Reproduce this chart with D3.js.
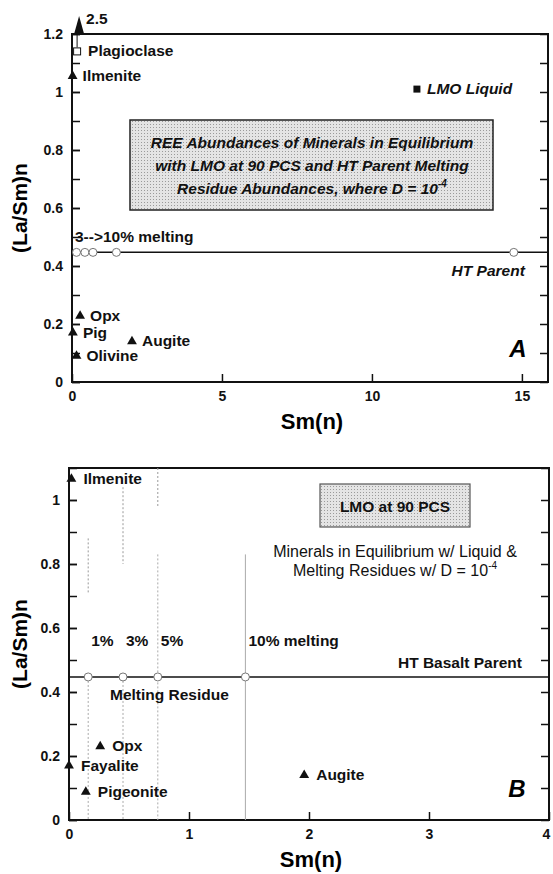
<!DOCTYPE html>
<html lang="en">
<head>
<meta charset="UTF-8">
<title>(La/Sm)n vs Sm(n)</title>
<script src="https://d3js.org/d3.v7.min.js"></script>
<style>
    body { margin: 0; background: #fff; }
    svg { display: block; font-family: "Liberation Sans", Arial, sans-serif; }
    .tick text { font-size: 14px; font-weight: bold; fill: #111; }
    .tick line { stroke: #111; stroke-width: 1.5; }
    .lbl { font-size: 15.5px; font-weight: bold; fill: #111; }
</style>
</head>
<body>
<svg id="chart" width="553" height="874"></svg>
<script>
// ---- panel A data ----
const mineralsA = ["Ilmenite", "Opx", "Pig", "Olivine", "Augite"];
const mineralSmA = [0.02, 0.27, 0.03, 0.15, 2.0];
const mineralRatioA = [1.055, 0.228, 0.17, 0.09, 0.14];
const plagSm = 0.17, plagRatio = 1.14, plagOffScale = "2.5";
const lmoLiquidSm = 11.5, lmoLiquidRatio = 1.01;
const residueSmA = [0.15, 0.43, 0.7, 1.48];
const htParentSm = 14.73;
const htParentRatio = 0.447;
const xTicksA = [0, 5, 10, 15];
const boxLinesA = [
    "REE Abundances of Minerals in Equilibrium",
    "with LMO at 90 PCS and HT Parent Melting",
    "Residue Abundances, where D = 10"
];

// ---- panel B data ----
const mineralsB = ["Ilmenite", "Opx", "Fayalite", "Pigeonite", "Augite"];
const mineralSmB = [0.02, 0.26, 0.0, 0.14, 1.96];
const mineralRatioB = [1.066, 0.23, 0.17, 0.088, 0.14];
const residueSmB = [0.16, 0.45, 0.74, 1.47];
const meltLabelsB = ["1%", "3%", "5%", "10% melting"];
const xTicksB = [0, 1, 2, 3, 4];
const yTicks = [0, 0.2, 0.4, 0.6, 0.8, 1, 1.2];

const svg = d3.select("#chart");

// stipple fill for the text boxes
const pat = svg.append("defs").append("pattern")
    .attr("id", "stipple").attr("width", 3).attr("height", 3)
    .attr("patternUnits", "userSpaceOnUse");
pat.append("rect").attr("width", 3).attr("height", 3).attr("fill", "#e4e4e4");
pat.append("rect").attr("width", 1).attr("height", 1).attr("fill", "#9a9a9a");

const tri = d3.symbol().type(d3.symbolTriangle).size(42);

function panel(left, top, width, height, xMax, yMax, xTicks) {
    const g = svg.append("g").attr("transform", `translate(${left},${top})`);
    const x = d3.scaleLinear().domain([0, xMax]).range([0, width]);
    const y = d3.scaleLinear().domain([0, yMax]).range([height, 0]);
    const minor = d3.range(0, yMax + 0.001, 0.1);

    g.append("g").call(d3.axisLeft(y).tickValues(minor).tickSize(-8).tickFormat(""));
    g.append("g").call(d3.axisLeft(y).tickValues(yTicks.filter(v => v <= yMax))
        .tickSize(-8).tickPadding(9).tickFormat(d => d));
    g.append("g").attr("transform", `translate(${width},0)`)
        .call(d3.axisRight(y).tickValues(minor).tickSize(-8).tickFormat(""));
    const xa = g.append("g").attr("transform", `translate(0,${height})`)
        .call(d3.axisBottom(x).tickValues(xTicks).tickSize(-8).tickPadding(9).tickFormat(d => d));
    // last label sits on the page edge
    xa.selectAll(".tick text").filter(d => d === xMax).attr("dx", -3);
    g.selectAll(".domain").remove();

    g.append("rect").attr("width", width).attr("height", height)
        .attr("fill", "none").attr("stroke", "#111").attr("stroke-width", 2);

    svg.append("text").attr("x", left + width / 2 + 2).attr("y", top + height + 47)
        .attr("text-anchor", "middle").attr("font-size", 22).attr("font-weight", "bold")
        .text("Sm(n)");
    svg.append("text")
        .attr("transform", `translate(27,${top + height * 0.5}) rotate(-90)`)
        .attr("text-anchor", "middle").attr("font-size", 21).attr("font-weight", "bold")
        .text("(La/Sm)n");
    return { g, x, y, width, height };
}

function minerals(p, names, xs, ys, dx) {
    names.forEach((n, i) => {
        p.g.append("path").attr("d", tri)
            .attr("transform", `translate(${p.x(xs[i])},${p.y(ys[i])})`)
            .attr("fill", "#111");
        p.g.append("text").attr("class", "lbl")
            .attr("x", p.x(xs[i]) + dx).attr("y", p.y(ys[i]) + 5)
            .text(n);
    });
}

// ================= Panel A =================
const A = panel(72, 34, 476, 348, 15.87, 1.2, xTicksA);

// off-scale plagioclase arrow
A.g.append("path").attr("d", "M0,-18 L-5,0 L5,0 Z")
    .attr("transform", `translate(${A.x(plagSm) + 2},0)`).attr("fill", "#111");
A.g.append("line").attr("x1", A.x(plagSm)).attr("x2", A.x(plagSm))
    .attr("y1", 0).attr("y2", A.y(plagRatio) - 4).attr("stroke", "#111");
A.g.append("text").attr("class", "lbl").attr("font-size", 14).attr("x", A.x(plagSm) + 9).attr("y", -10)
    .text(plagOffScale);
A.g.append("rect").attr("x", A.x(plagSm) - 3.5).attr("y", A.y(plagRatio) - 3.5)
    .attr("width", 7).attr("height", 7).attr("fill", "#fff").attr("stroke", "#111");
A.g.append("text").attr("class", "lbl").attr("x", A.x(plagSm) + 11).attr("y", A.y(plagRatio) + 5)
    .text("Plagioclase");

minerals(A, mineralsA, mineralSmA, mineralRatioA, 10);

// LMO liquid
A.g.append("rect").attr("x", A.x(lmoLiquidSm) - 3.5).attr("y", A.y(lmoLiquidRatio) - 3.5)
    .attr("width", 7).attr("height", 7).attr("fill", "#111");
A.g.append("text").attr("class", "lbl").attr("font-style", "italic")
    .attr("x", A.x(lmoLiquidSm) + 10).attr("y", A.y(lmoLiquidRatio) + 5).text("LMO Liquid");

// HT parent line + residues
A.g.append("line").attr("x1", 0).attr("x2", A.width)
    .attr("y1", A.y(htParentRatio)).attr("y2", A.y(htParentRatio))
    .attr("stroke", "#111").attr("stroke-width", 1.5);
A.g.selectAll(".resA").data(residueSmA.concat([htParentSm])).join("circle")
    .attr("cx", d => A.x(d)).attr("cy", A.y(htParentRatio)).attr("r", 4)
    .attr("fill", "#fff").attr("stroke", "#777");
A.g.append("text").attr("class", "lbl").attr("x", 3).attr("y", A.y(htParentRatio) - 10)
    .text("3-->10% melting");
A.g.append("text").attr("class", "lbl").attr("font-style", "italic")
    .attr("x", A.x(htParentSm) + 11).attr("y", A.y(htParentRatio) + 24)
    .attr("text-anchor", "end").text("HT Parent");

// description box
A.g.append("rect").attr("x", 58).attr("y", 86).attr("width", 363).attr("height", 90)
    .attr("fill", "url(#stipple)").attr("stroke", "#222").attr("stroke-width", 1.5);
boxLinesA.forEach((t, i) => {
    const tx = A.g.append("text").attr("class", "lbl").attr("font-style", "italic")
        .attr("font-size", 16)
        .attr("x", 240).attr("y", 114 + i * 23).attr("text-anchor", "middle").text(t);
    if (i === boxLinesA.length - 1)
        tx.append("tspan").attr("dy", -7).attr("font-size", 10).text("-4");
});

A.g.append("text").attr("x", A.width - 30).attr("y", A.height - 25)
    .attr("text-anchor", "middle").attr("font-size", 24).attr("font-weight", "bold")
    .attr("font-style", "italic").text("A");

// ================= Panel B =================
const B = panel(69, 468, 480, 352, 4, 1.1, xTicksB);

// faint vertical melting guides
const guideTop = [[0.88, 0.71], [1.04, 0.8], [1.1, 0.975], [0.83, 0.83]];
residueSmB.forEach((s, i) => {
    B.g.append("line").attr("x1", B.x(s)).attr("x2", B.x(s))
        .attr("y1", B.y(guideTop[i][0])).attr("y2", B.y(guideTop[i][1]))
        .attr("stroke", "#999").attr("stroke-dasharray", i === 3 ? null : "2,2");
    B.g.append("line").attr("x1", B.x(s)).attr("x2", B.x(s))
        .attr("y1", B.y(i >= 2 ? 0.83 : htParentRatio)).attr("y2", B.height)
        .attr("stroke", "#aaa").attr("stroke-dasharray", i === 3 ? null : "2,2");
    B.g.append("text").attr("class", "lbl").attr("font-size", 15)
        .attr("x", B.x(s) + 3).attr("y", B.y(0.545)).text(meltLabelsB[i]);
});

B.g.append("line").attr("x1", 0).attr("x2", B.width)
    .attr("y1", B.y(htParentRatio)).attr("y2", B.y(htParentRatio))
    .attr("stroke", "#111").attr("stroke-width", 1.5);
B.g.selectAll(".resB").data(residueSmB).join("circle")
    .attr("cx", d => B.x(d)).attr("cy", B.y(htParentRatio)).attr("r", 4)
    .attr("fill", "#fff").attr("stroke", "#777");
B.g.append("text").attr("class", "lbl").attr("x", B.x(residueSmB[1]) - 13)
    .attr("y", B.y(htParentRatio) + 23).text("Melting Residue");
B.g.append("text").attr("class", "lbl").attr("x", B.width - 27)
    .attr("y", B.y(htParentRatio) - 9).attr("text-anchor", "end").text("HT Basalt Parent");

minerals(B, mineralsB, mineralSmB, mineralRatioB, 12);

B.g.append("rect").attr("x", 251).attr("y", 16).attr("width", 150).attr("height", 43)
    .attr("fill", "url(#stipple)").attr("stroke", "#555").attr("stroke-width", 1.2);
B.g.append("text").attr("class", "lbl").attr("font-size", 16).attr("x", 326).attr("y", 44)
    .attr("text-anchor", "middle").text("LMO at 90 PCS");
B.g.append("text").attr("x", 326).attr("y", 89).attr("text-anchor", "middle")
    .attr("font-size", 16).attr("fill", "#111").text("Minerals in Equilibrium w/ Liquid &");
B.g.append("text").attr("x", 326).attr("y", 108).attr("text-anchor", "middle")
    .attr("font-size", 16).attr("fill", "#111").text("Melting Residues w/ D = 10")
    .append("tspan").attr("dy", -7).attr("font-size", 10).text("-4");

B.g.append("text").attr("x", B.width - 32).attr("y", B.height - 23)
    .attr("text-anchor", "middle").attr("font-size", 24).attr("font-weight", "bold")
    .attr("font-style", "italic").text("B");
</script>
</body>
</html>
